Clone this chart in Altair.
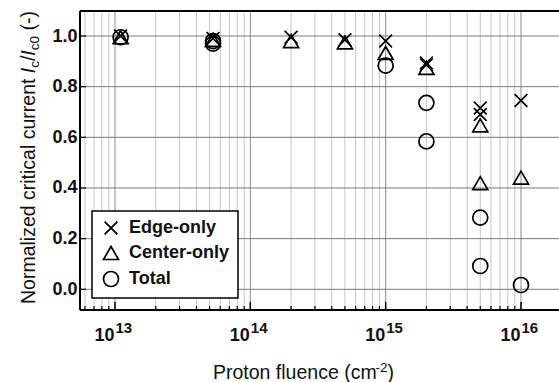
import altair as alt
import pandas as pd

# Critical current retained after proton irradiation, per damage region
edge_fluence = [1.1e13, 5.3e13, 2e14, 5e14, 1e15, 2e15, 2e15, 5e15, 5e15, 1e16]
edge_ic = [1.0, 0.99, 0.995, 0.985, 0.98, 0.894, 0.886, 0.716, 0.69, 0.745]

center_fluence = [1.1e13, 5.3e13, 2e14, 5e14, 1e15, 2e15, 5e15, 5e15, 1e16]
center_ic = [0.995, 0.985, 0.98, 0.975, 0.933, 0.874, 0.647, 0.419, 0.441]

total_fluence = [1.1e13, 5.3e13, 5.3e13, 1e15, 2e15, 2e15, 5e15, 5e15, 1e16]
total_ic = [0.995, 0.98, 0.97, 0.883, 0.736, 0.584, 0.283, 0.092, 0.017]

series_names = ["Edge-only", "Center-only", "Total"]

# axis ticks
decades = [1e13, 1e14, 1e15, 1e16]
decade_exponents = ["13", "14", "15", "16"]
y_ticks = [0.0, 0.2, 0.4, 0.6, 0.8, 1.0]

X_MIN, X_MAX = 10 ** 12.7414, 10 ** 16.2808
Y_MIN, Y_MAX = -0.0817, 1.0987
W, H = 479, 299
FONT = "Liberation Sans"
INK = "#111111"

minor_ticks = [k * 10.0 ** d for d in range(12, 17) for k in range(2, 10)
               if X_MIN <= k * 10.0 ** d <= X_MAX]

points = pd.DataFrame({
    "fluence": edge_fluence + center_fluence + total_fluence,
    "ic": edge_ic + center_ic + total_ic,
    "series": [series_names[0]] * len(edge_ic)
    + [series_names[1]] * len(center_ic)
    + [series_names[2]] * len(total_ic),
})
minor_df = pd.DataFrame({"f": minor_ticks})
major_df = pd.DataFrame({"f": decades, "e": decade_exponents})
ytick_df = pd.DataFrame({"v": y_ticks})

xs = alt.Scale(type="log", domain=[X_MIN, X_MAX], nice=False)
ys = alt.Scale(domain=[Y_MIN, Y_MAX], nice=False, zero=False)
y_axis = alt.Axis(values=y_ticks, format=".1f", domain=False, ticks=False, grid=False,
                  labelFontSize=18, labelFont=FONT, labelFontWeight="bold",
                  labelColor=INK, labelPadding=3, labelBaseline="middle", title=None)


def xq(field):
    return alt.X(field, type="quantitative", scale=xs, axis=None)


def yq(field):
    return alt.Y(field, type="quantitative", scale=ys, axis=y_axis)


grid_minor = alt.Chart(minor_df).mark_rule(color="#c6c6c6", strokeWidth=1).encode(x=xq("f"))
grid_major = alt.Chart(major_df).mark_rule(color="#8c8c8c", strokeWidth=1).encode(x=xq("f"))
grid_h = alt.Chart(ytick_df).mark_rule(color="#7a7a7a", strokeWidth=1).encode(y=yq("v"))

tick_minor = alt.Chart(minor_df).mark_rule(color="black", strokeWidth=1.2).encode(
    x=xq("f"), y=alt.value(H), y2=alt.value(H - 4))
tick_major = alt.Chart(major_df).mark_rule(color="black", strokeWidth=1.5).encode(
    x=xq("f"), y=alt.value(H), y2=alt.value(H - 8))
tick_y = alt.Chart(ytick_df).mark_rule(color="black", strokeWidth=1.2).encode(
    y=yq("v"), x=alt.value(0), x2=alt.value(6))

frame_top = alt.Chart().mark_rule(color="black", strokeWidth=2).encode(
    x=alt.value(0), x2=alt.value(W), y=alt.value(0))
frame_bottom = alt.Chart().mark_rule(color="black", strokeWidth=2).encode(
    x=alt.value(0), x2=alt.value(W), y=alt.value(H))
frame_left = alt.Chart().mark_rule(color="black", strokeWidth=2).encode(
    x=alt.value(0), y=alt.value(0), y2=alt.value(H))

# decade labels drawn as 10 with a raised exponent
xlab_base = alt.Chart(major_df).mark_text(
    text="10", align="right", baseline="alphabetic", fontSize=18, font=FONT,
    fontWeight="bold", color=INK, dx=-0.5
).encode(x=xq("f"), y=alt.value(329.5))
xlab_exp = alt.Chart(major_df).mark_text(
    align="left", baseline="alphabetic", fontSize=15, font=FONT,
    fontWeight="bold", color=INK, dx=0.5
).encode(x=xq("f"), y=alt.value(321.5), text="e:N")

X_SHAPE = "M-0.85,-0.85L0.85,0.85M-0.85,0.85L0.85,-0.85"

pts = alt.Chart(points).mark_point(
    filled=False, size=225, strokeWidth=1.7, color="black", opacity=1
).encode(
    x=xq("fluence"),
    y=yq("ic"),
    shape=alt.Shape(
        "series:N",
        scale=alt.Scale(domain=series_names, range=[X_SHAPE, "triangle-up", "circle"]),
        legend=alt.Legend(
            title=None, orient="none", legendX=12, legendY=200,
            direction="vertical",
            fillColor="white", strokeColor="black",
            padding=8, rowPadding=5,
            symbolSize=225, symbolStrokeWidth=1.7, symbolStrokeColor="black",
            symbolFillColor="transparent", symbolOffset=2,
            labelFont=FONT, labelFontSize=18, labelFontWeight="bold",
            labelColor=INK, labelOffset=9, labelLimit=300,
        ),
    ),
)

# axis titles with italic symbols, subscripts and superscripts
def title_piece(text, x, y, size, italic=False, angle=0):
    props = dict(text=text, align="left", baseline="alphabetic", fontSize=size,
                 font=FONT, color=INK)
    if italic:
        props["fontStyle"] = "italic"
    if angle:
        props["angle"] = angle
    return alt.Chart().mark_text(**props).encode(x=alt.value(x), y=alt.value(y))


YB, YS = -45, -41.5
ytitle = [
    title_piece("Normalized critical current", YB, 293, 19.5, angle=270),
    title_piece("I", YB, 62.2, 19.5, italic=True, angle=270),
    title_piece("c", YS, 56.8, 13.5, angle=270),
    title_piece("/", YB, 50.1, 19.5, angle=270),
    title_piece("I", YB, 44.7, 19.5, italic=True, angle=270),
    title_piece("c0", YS, 39.3, 13.5, angle=270),
    title_piece("(-)", YB, 19.6, 19.5, angle=270),
]
xtitle = [
    title_piece("Proton fluence (cm", 133, 368, 19.5),
    title_piece("-2", 295.5, 361, 13.5),
    title_piece(")", 307.5, 368, 19.5),
]

chart = alt.layer(
    grid_minor, grid_major, grid_h,
    tick_minor, tick_major, tick_y,
    frame_top, frame_bottom, frame_left,
    xlab_base, xlab_exp,
    pts,
    *ytitle, *xtitle,
).properties(
    width=W, height=H,
    autosize=alt.AutoSizeParams(type="none"),
    padding={"left": 80, "top": 11, "right": 0, "bottom": 72},
    background="white",
).configure_view(stroke=None).configure_legend(strokeWidth=1.5, cornerRadius=0)

chart.save("out.html", embed_options={"renderer": "svg", "actions": False})
